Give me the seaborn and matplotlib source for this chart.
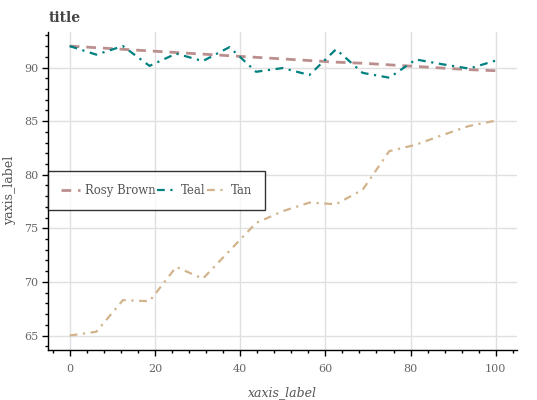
import numpy as np
import pandas as pd
import matplotlib
matplotlib.use('Agg')
import matplotlib.pyplot as plt
import seaborn as sns
from matplotlib.ticker import AutoMinorLocator

# Values
x_vals = [0, 6.25, 12.5, 18.75, 25, 31.25, 37.5, 43.75, 50, 56.25,
          62.5, 68.75, 75, 81.25, 87.5, 93.75, 100]
rosy_brown = [92.0, 91.85, 91.7, 91.55, 91.4, 91.25, 91.1, 90.95, 90.8, 90.65,
              90.5, 90.4, 90.25, 90.1, 89.95, 89.8, 89.7]
teal = [92.0, 91.2, 92.0, 90.15, 91.3, 90.6, 91.9, 89.6, 89.95, 89.3,
        91.7, 89.5, 89.05, 90.75, 90.3, 89.9, 90.65]
tan = [65.0, 65.35, 68.3, 68.2, 71.4, 70.3, 72.9, 75.5, 76.6, 77.4,
       77.25, 78.6, 82.2, 82.8, 83.7, 84.55, 85.05]

series_names = ['Rosy Brown', 'Teal', 'Tan']
series_colors = ['#BC8F8F', '#008080', '#D2B48C']

df = pd.DataFrame({'x': x_vals, 'Rosy Brown': rosy_brown, 'Teal': teal, 'Tan': tan})
long_df = df.melt(id_vars='x', var_name='series', value_name='y')

sns.set_style('whitegrid')
plt.rcParams['font.family'] = ['DejaVu Serif']

fig, ax = plt.subplots(figsize=(5.37, 4), dpi=100)

styles = {
    'Rosy Brown': dict(dashes=(3.5, 2.5), lw=2.0),
    'Teal': dict(dashes=(3.5, 2.5, 1, 2.5), lw=1.6),
    'Tan': dict(dashes=(3.5, 2.5, 1, 2.5), lw=1.6),
}
for name, color in zip(series_names, series_colors):
    sub = long_df[long_df['series'] == name]
    sns.lineplot(data=sub, x='x', y='y', color=color, label=name, ax=ax,
                 linewidth=styles[name]['lw'], dashes=False)
    ax.lines[-1].set_dashes(styles[name]['dashes'])

ax.set_xlim(-5, 105)
ax.xaxis.set_minor_locator(AutoMinorLocator(5))
ax.yaxis.set_minor_locator(AutoMinorLocator(5))
ax.set_xticks([0, 20, 40, 60, 80, 100])
ax.set_yticks([65, 70, 75, 80, 85, 90])
ax.grid(True, which='major', color='#e0e0e0', linewidth=1)
ax.grid(False, which='minor')

for side in ['top', 'right']:
    ax.spines[side].set_visible(False)
for side in ['left', 'bottom']:
    ax.spines[side].set_visible(True)
    ax.spines[side].set_color('black')
    ax.spines[side].set_linewidth(1)

ax.tick_params(axis='both', which='major', direction='out', length=4, width=1,
               color='black', labelsize=8, labelcolor='#666666', left=True, bottom=True)
ax.tick_params(axis='x', which='major', pad=6)
ax.tick_params(axis='y', which='major', pad=3)
ax.tick_params(axis='both', which='minor', direction='out', length=2.5, width=1,
               color='black', left=True, bottom=True)

ax.set_title('title', loc='left', fontsize=10, fontweight='bold', color='#444444', pad=7)
ax.set_xlabel('xaxis_label', fontsize=9, style='italic', color='#555555', labelpad=9)
ax.set_ylabel('yaxis_label', fontsize=9, color='#555555', labelpad=6)

leg = ax.legend(loc='center left', bbox_to_anchor=(0, 0.5), ncol=3, frameon=True,
                fancybox=False, edgecolor='black', fontsize=8.4, borderaxespad=0,
                handlelength=1.6, handletextpad=0.45, columnspacing=0.1,
                borderpad=1.1)
leg.get_frame().set_linewidth(1)
for t in leg.get_texts():
    t.set_color('#555555')

fig.subplots_adjust(left=0.09, right=0.963, top=0.921, bottom=0.125)
fig.savefig('out.png', dpi=100)
